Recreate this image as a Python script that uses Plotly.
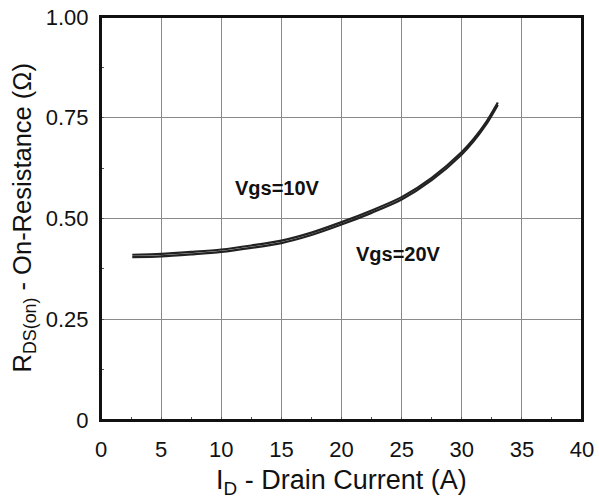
import plotly.graph_objects as go

current_a = [2.6, 5, 7.5, 10, 12.5, 15, 17.5, 20, 22.5, 25, 27.5, 30, 31, 32, 33]
rds_vgs10 = [0.410, 0.412, 0.417, 0.423, 0.433, 0.445, 0.465, 0.491, 0.520, 0.553, 0.601, 0.665, 0.698, 0.738, 0.788]
rds_vgs20 = [0.404, 0.406, 0.411, 0.417, 0.427, 0.439, 0.459, 0.485, 0.514, 0.547, 0.595, 0.659, 0.692, 0.732, 0.782]

x_ticks = [0, 5, 10, 15, 20, 25, 30, 35, 40]
y_ticks = [0, 0.25, 0.5, 0.75, 1.0]
y_ticktext = ["0", "0.25", "0.50", "0.75", "1.00"]

FONT = "Liberation Sans, Arial"

fig = go.Figure()
fig.add_trace(go.Scatter(x=current_a, y=rds_vgs10, mode="lines", name="Vgs=10V",
                         line=dict(color="#222", width=2.2, shape="spline", smoothing=0.8), showlegend=False))
fig.add_trace(go.Scatter(x=current_a, y=rds_vgs20, mode="lines", name="Vgs=20V",
                         line=dict(color="#222", width=2.2, shape="spline", smoothing=0.8), showlegend=False))

fig.add_annotation(x=14.7, y=0.576, text="<b>Vgs=10V</b>", showarrow=False, font=dict(size=20, color="#111", family=FONT))
fig.add_annotation(x=24.7, y=0.412, text="<b>Vgs=20V</b>", showarrow=False, font=dict(size=20, color="#111", family=FONT))

# axis titles as annotations for exact placement
fig.add_annotation(xref="paper", yref="paper", x=0.5, y=0, yshift=-62, yanchor="middle",
                   text="I<sub>D</sub> - Drain Current (A)", showarrow=False,
                   font=dict(size=27, color="#111", family=FONT))
fig.add_annotation(xref="paper", yref="paper", x=0, y=0.5, xshift=-78, xanchor="center",
                   text="R<sub>DS(on)</sub> - On-Resistance (Ω)", showarrow=False, textangle=-90,
                   font=dict(size=25.5, color="#111", family=FONT))

# plot frame
fig.add_shape(type="rect", xref="paper", yref="paper", x0=0, x1=1, y0=0, y1=1,
              line=dict(color="#111", width=2), layer="above")

axis_common = dict(
    showline=True, linecolor="#111", linewidth=2, mirror=True,
    showgrid=True, gridcolor="#8a8a8a", gridwidth=1.2,
    ticks="inside", ticklen=3, tickcolor="#555",
    zeroline=False, automargin=False, ticklabeloverflow="allow",
    tickfont=dict(size=22, color="#111", family=FONT),
)

fig.update_layout(
    width=599, height=498,
    margin=dict(l=101, r=17, t=17, b=78),
    plot_bgcolor="white", paper_bgcolor="white",
    font=dict(family=FONT, color="#111"),
    xaxis=dict(range=[0, 40], tickvals=x_ticks, ticklabelstandoff=9,
               minor=dict(ticks="inside", dtick=2.5, ticklen=3, tickcolor="#555", showgrid=False),
               **axis_common),
    yaxis=dict(range=[0, 1], tickvals=y_ticks, ticktext=y_ticktext, ticklabelstandoff=6,
               minor=dict(ticks="inside", dtick=0.125, ticklen=3, tickcolor="#555", showgrid=False),
               **axis_common),
)

# remove the default 8px page margin so the figure fills the window exactly
fig.write_html("out.html", config={"displayModeBar": False},
               post_script="document.body.style.margin='0px';document.body.style.overflow='hidden';")
